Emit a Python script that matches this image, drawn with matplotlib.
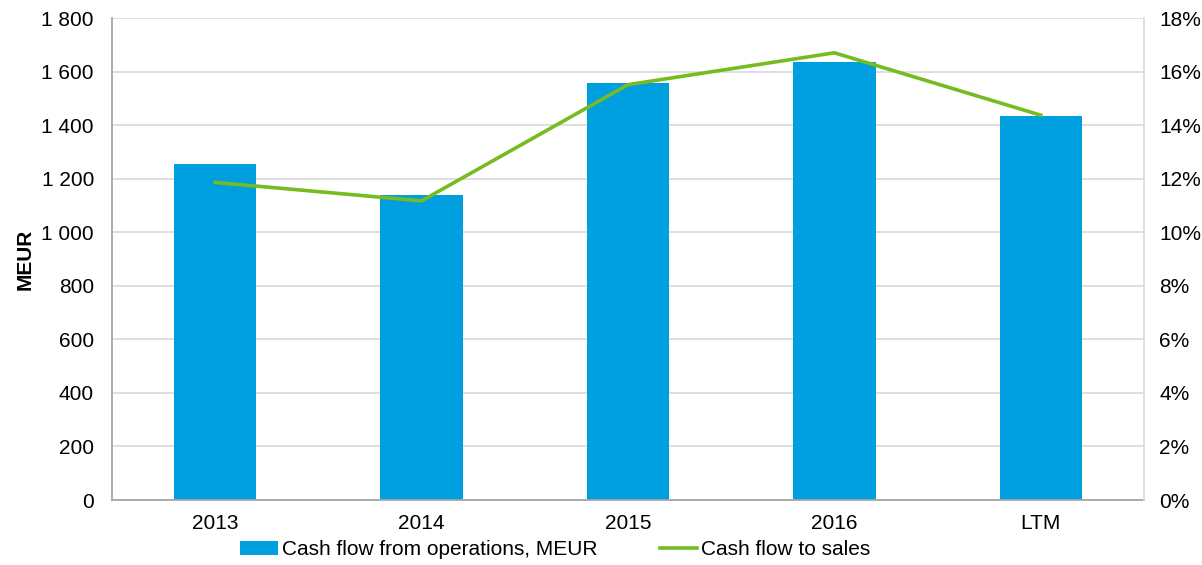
import matplotlib
matplotlib.use("Agg")
import matplotlib.pyplot as plt
from matplotlib.patches import Patch
from matplotlib.lines import Line2D
from matplotlib.ticker import FuncFormatter

plt.rcParams['font.family'] = ['Liberation Sans', 'DejaVu Sans']

categories = ["2013", "2014", "2015", "2016", "LTM"]
cash_flow_meur = [1255, 1140, 1559, 1636, 1434]
cash_flow_to_sales_pct = [11.86, 11.17, 15.51, 16.70, 14.37]

bar_color = "#009FDF"
line_color = "#76BC21"
fs = 15

fig = plt.figure(figsize=(12.02, 5.65), dpi=100)
ax = fig.add_axes([112/1202, 1 - 500/565, (1144 - 112)/1202, (500 - 18)/565])
ax2 = ax.twinx()

x = list(range(len(categories)))
ax.bar(x, cash_flow_meur, width=0.4, color=bar_color, zorder=2)
ax2.plot(x, cash_flow_to_sales_pct, color=line_color, lw=2.6, zorder=3,
         solid_joinstyle="miter")

ax.set_xlim(-0.5, len(categories) - 0.5)
ax.set_ylim(0, 1800)
ax.set_yticks(range(0, 1801, 200))
ax.yaxis.set_major_formatter(FuncFormatter(lambda v, p: f"{int(v):,}".replace(",", " ")))
ax2.set_ylim(0, 18)
ax2.set_yticks(range(0, 19, 2))
ax2.yaxis.set_major_formatter(FuncFormatter(lambda v, p: f"{int(v)}%"))

ax.set_xticks(x)
ax.set_xticklabels(categories)
ax.grid(axis="y", color="#D9D9D9", lw=1.2, zorder=0)
ax.set_axisbelow(True)

for a in (ax, ax2):
    a.tick_params(length=0, labelsize=fs, colors="black")
    a.spines["top"].set_visible(False)
ax.tick_params(axis="y", pad=13)
ax.tick_params(axis="x", pad=10)
ax2.tick_params(axis="y", pad=11)
for s in ("left", "bottom"):
    ax.spines[s].set_color("#A6A6A6")
    ax.spines[s].set_linewidth(1.3)
ax.spines["right"].set_visible(False)
ax2.spines["left"].set_visible(False)
ax2.spines["bottom"].set_visible(False)
ax2.spines["right"].set_color("#D9D9D9")
ax2.spines["right"].set_linewidth(1.2)

ax.set_ylabel("MEUR", fontsize=15, fontweight="bold", labelpad=5)

handles = [Patch(facecolor=bar_color, edgecolor="none"),
           Line2D([0], [0], color=line_color, lw=2.6)]
labels = ["Cash flow from operations, MEUR", "Cash flow to sales"]
fig.legend(handles, labels, loc="center", bbox_to_anchor=(0.462, 0.027),
           ncol=2, frameon=False, fontsize=fs, handlelength=1.8,
           handleheight=0.6, handletextpad=0.2, columnspacing=3.0)

fig.savefig("out.png", dpi=100)
